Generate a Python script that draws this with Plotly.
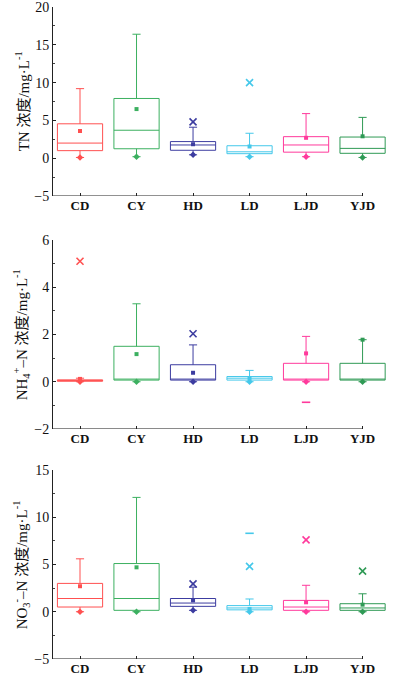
import plotly.graph_objects as go

categories = ["CD", "CY", "HD", "LD", "LJD", "YJD"]
colors = ["#ff5050", "#3cb060", "#3c3ca0", "#45c8ea", "#ff3a9c", "#2f9a55"]

# Panel 1: TN
tn_q1 = [1.0, 1.25, 1.05, 0.6, 0.8, 0.65]
tn_med = [2.0, 3.7, 1.75, 0.85, 1.75, 1.3]
tn_q3 = [4.55, 7.9, 2.2, 1.65, 2.85, 2.8]
tn_lo = [0.1, 0.2, 0.45, 0.2, 0.2, 0.1]
tn_hi = [9.2, 16.4, 4.1, 3.3, 5.9, 5.4]
tn_mean = [3.6, 6.5, 1.85, 1.55, 2.7, 2.9]
tn_out_cat = ["HD", "LD"]
tn_out_val = [4.8, 10.0]
tn_dash_cat = []
tn_dash_val = []

# Panel 2: NH4+-N
nh_q1 = [0.02, 0.07, 0.07, 0.07, 0.07, 0.07]
nh_med = [0.05, 0.1, 0.1, 0.15, 0.1, 0.1]
nh_q3 = [0.08, 1.5, 0.72, 0.22, 0.78, 0.78]
nh_lo = [0.0, 0.0, 0.0, 0.0, 0.0, 0.0]
nh_hi = [0.15, 3.3, 1.56, 0.48, 1.92, 1.78]
nh_mean = [0.12, 1.17, 0.38, 0.15, 1.2, 1.78]
nh_out_cat = ["CD", "HD"]
nh_out_val = [5.1, 2.03]
nh_dash_cat = ["LJD"]
nh_dash_val = [-0.87]

# Panel 3: NO3--N
no_q1 = [0.5, 0.15, 0.57, 0.2, 0.15, 0.15]
no_med = [1.4, 1.4, 0.92, 0.4, 0.5, 0.4]
no_q3 = [3.0, 5.1, 1.4, 0.65, 1.2, 0.85]
no_lo = [0.0, 0.0, 0.15, 0.0, 0.0, 0.0]
no_hi = [5.6, 12.1, 2.6, 1.35, 2.8, 1.9]
no_mean = [2.7, 4.7, 1.2, 0.3, 1.0, 0.75]
no_out_cat = ["HD", "LD", "LJD", "YJD"]
no_out_val = [2.95, 4.8, 7.6, 4.3]
no_dash_cat = ["LD"]
no_dash_val = [8.3]

panels = [
    dict(q1=tn_q1, med=tn_med, q3=tn_q3, lo=tn_lo, hi=tn_hi, mean=tn_mean,
         oc=tn_out_cat, ov=tn_out_val, dc=tn_dash_cat, dv=tn_dash_val,
         rng=[-5, 20], dtick=5, minor=2.5, dom=[0.7101, 1.0],
         title="TN 浓度/mg·L<sup>-1</sup>"),
    dict(q1=nh_q1, med=nh_med, q3=nh_q3, lo=nh_lo, hi=nh_hi, mean=nh_mean,
         oc=nh_out_cat, ov=nh_out_val, dc=nh_dash_cat, dv=nh_dash_val,
         rng=[-2, 6], dtick=2, minor=1, dom=[0.3528, 0.6426],
         title="NH<sub>4</sub><sup>+</sup>–N 浓度/mg·L<sup>-1</sup>"),
    dict(q1=no_q1, med=no_med, q3=no_q3, lo=no_lo, hi=no_hi, mean=no_mean,
         oc=no_out_cat, ov=no_out_val, dc=no_dash_cat, dv=no_dash_val,
         rng=[-5, 15], dtick=5, minor=2.5, dom=[0.0, 0.2899],
         title="NO<sub>3</sub><sup>-</sup>–N 浓度/mg·L<sup>-1</sup>"),
]

serif = "Liberation Serif, Times New Roman, Noto Sans CJK SC, serif"
fig = go.Figure()
xr = [-0.478, 5.45]
cmap = dict(zip(categories, colors))

for i, p in enumerate(panels):
    n = "" if i == 0 else str(i + 1)
    xa, ya = "x" + n, "y" + n
    for j, c in enumerate(categories):
        fig.add_trace(go.Box(
            x=[c], q1=[p["q1"][j]], median=[p["med"][j]], q3=[p["q3"][j]],
            lowerfence=[p["lo"][j]], upperfence=[p["hi"][j]],
            width=0.8, whiskerwidth=0.18, boxpoints=False,
            line=dict(color=colors[j], width=1), fillcolor="rgba(0,0,0,0)",
            xaxis=xa, yaxis=ya, showlegend=False, hoverinfo="skip"))
    fig.add_trace(go.Scatter(
        x=categories, y=p["mean"], mode="markers", xaxis=xa, yaxis=ya,
        marker=dict(symbol="square", size=4, color=colors), showlegend=False))
    fig.add_trace(go.Scatter(
        x=categories, y=p["lo"], mode="markers", xaxis=xa, yaxis=ya,
        marker=dict(symbol="diamond", size=5, color=colors), showlegend=False))
    if p["oc"]:
        oc_col = [cmap[c] for c in p["oc"]]
        fig.add_trace(go.Scatter(
            x=p["oc"], y=p["ov"], mode="markers", xaxis=xa, yaxis=ya,
            marker=dict(symbol="x-thin-open", size=7, color=oc_col,
                        line=dict(width=1.6, color=oc_col)),
            showlegend=False))
    if p["dc"]:
        dc_col = [cmap[c] for c in p["dc"]]
        fig.add_trace(go.Scatter(
            x=p["dc"], y=p["dv"], mode="markers", xaxis=xa, yaxis=ya,
            marker=dict(symbol="line-ew-open", size=6, color=dc_col,
                        line=dict(width=1.6, color=dc_col)),
            showlegend=False))
    fig.update_layout(**{
        "xaxis" + n: dict(type="category", categoryorder="array",
                          categoryarray=categories, range=xr, anchor=ya,
                          automargin=False, ticklabeloverflow="allow",
                          showline=False, showgrid=False, zeroline=False,
                          ticks="inside", ticklen=3, tickcolor="#222",
                          tickfont=dict(family=serif, size=13, color="#111",
                                        weight="bold")),
        "yaxis" + n: dict(domain=p["dom"], range=p["rng"], dtick=p["dtick"],
                          anchor=xa, automargin=False, ticklabeloverflow="allow",
                          showline=True, linecolor="#222", linewidth=1,
                          showgrid=False, zeroline=False, ticks="inside",
                          ticklen=3, tickcolor="#222",
                          minor=dict(ticks="inside", ticklen=2, dtick=p["minor"],
                                     tickcolor="#444"),
                          tickfont=dict(family=serif, size=14, color="#111")),
    })
    fig.add_shape(type="line", xref=xa, yref=ya, x0=xr[0], x1=5,
                  y0=p["rng"][0], y1=p["rng"][0],
                  line=dict(color="#222", width=1))
    fig.add_annotation(text=p["title"], xref="paper", yref="paper",
                       x=-0.093, y=(p["dom"][0] + p["dom"][1]) / 2,
                       xanchor="center", yanchor="middle", textangle=-90,
                       showarrow=False,
                       font=dict(family=serif, size=15, color="#111"))

fig.update_layout(width=399, height=683,
                  margin=dict(l=53, r=11, t=7, b=24, autoexpand=False),
                  paper_bgcolor="white", plot_bgcolor="white",
                  boxmode="overlay", showlegend=False)

fig.write_html("out.html", config={"displayModeBar": False},
               post_script="document.body.style.margin='0px';document.body.style.overflow='hidden';")
